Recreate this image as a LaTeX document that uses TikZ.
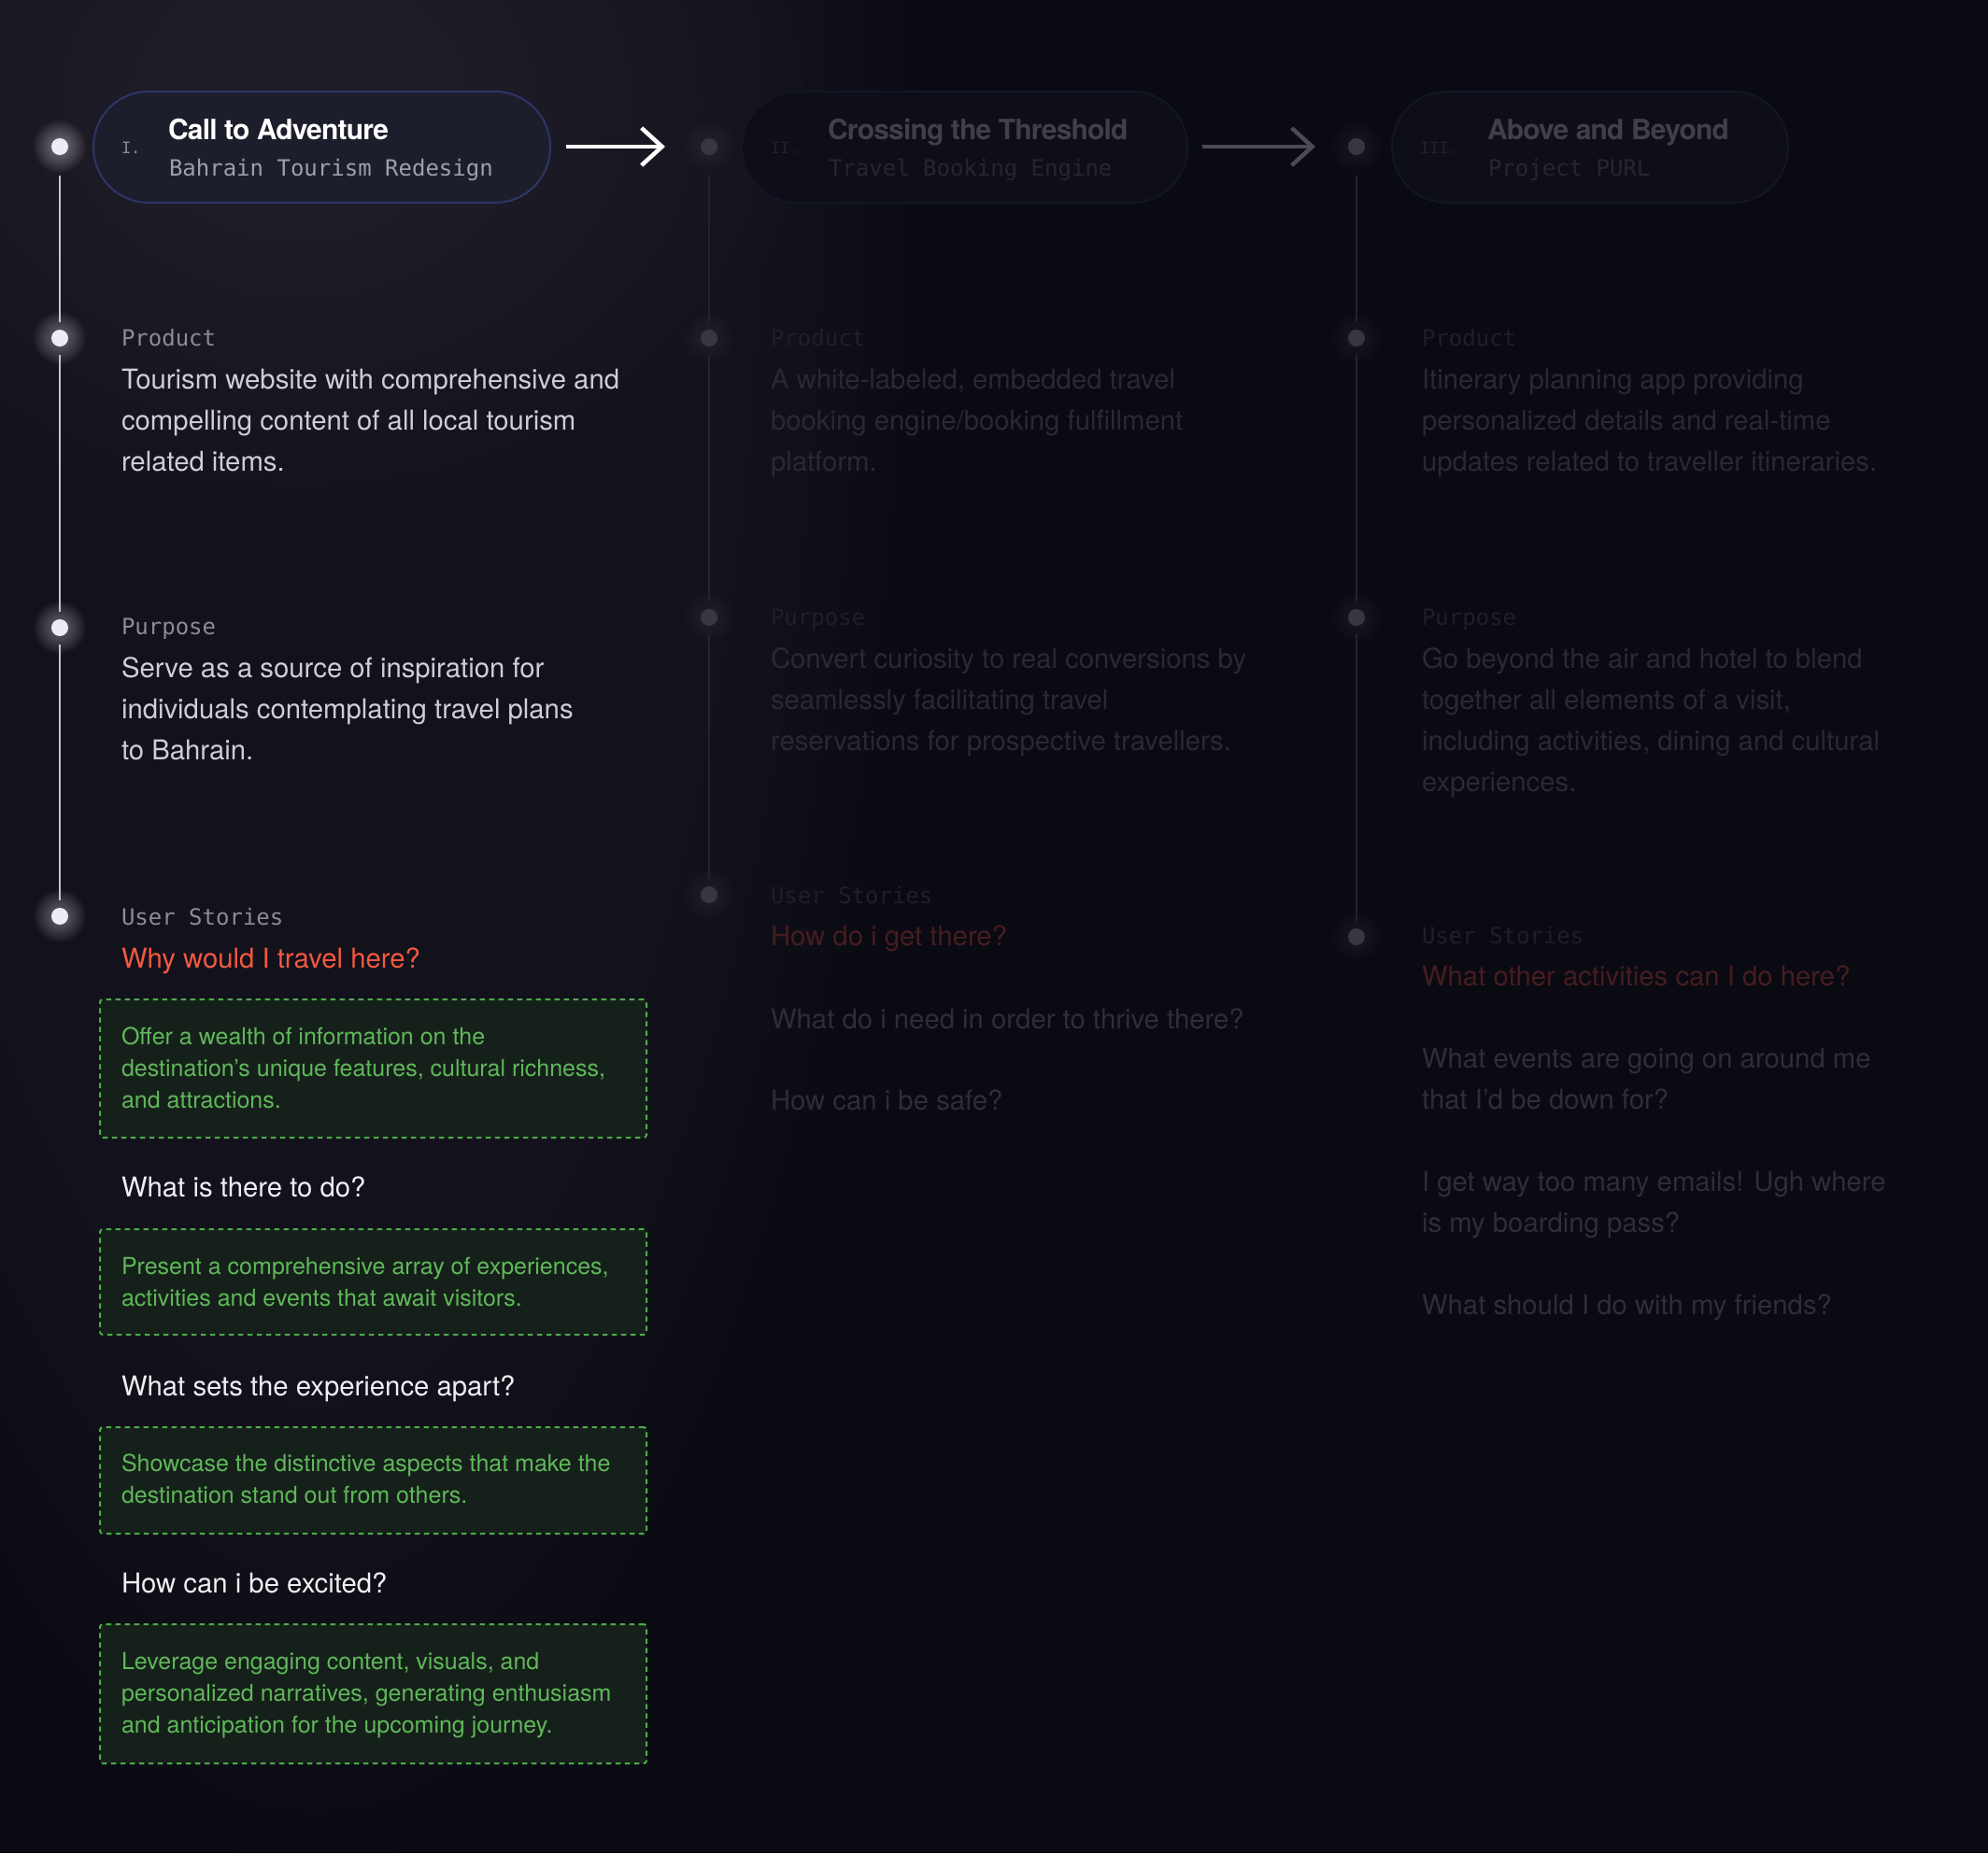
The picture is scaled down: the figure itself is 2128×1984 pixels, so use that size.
\documentclass[tikz,border=0pt]{standalone}
\usepackage{fontspec}
\setmainfont{TeX Gyre Heros}
\setmonofont{DejaVu Sans Mono}
\newfontfamily\titlefont[LetterSpace=-2.7]{TeX Gyre Heros}
\usetikzlibrary{arrows.meta,calc}
\definecolor{bgc}{HTML}{0A0A13}
\definecolor{glowc}{HTML}{3C3B46}
\definecolor{monoA}{HTML}{8C8B97}
\definecolor{bodyA}{HTML}{CFCED6}
\definecolor{subA}{HTML}{A09FAB}
\definecolor{numA}{HTML}{8A8996}
\definecolor{redA}{HTML}{F2593F}
\definecolor{qA}{HTML}{EFEFF3}
\definecolor{greenT}{HTML}{5FB85A}
\definecolor{greenB}{HTML}{4DAA4A}
\definecolor{greenF}{HTML}{16201A}
\definecolor{monoD}{HTML}{201F29}
\definecolor{bodyD}{HTML}{2A2933}
\definecolor{titleD}{HTML}{403F4A}
\definecolor{subD}{HTML}{272630}
\definecolor{numD}{HTML}{22212B}
\definecolor{redD}{HTML}{471C1F}
\definecolor{qD}{HTML}{2E2D38}
\definecolor{lineA}{HTML}{C5C4CE}
\definecolor{lineD}{HTML}{23222D}
\definecolor{dotA}{HTML}{EDECF4}
\definecolor{dotD}{HTML}{383741}
\definecolor{arrowD}{HTML}{4B4A55}
\definecolor{pillFA}{HTML}{1D1E2B}
\definecolor{pillBA}{HTML}{2E3568}
\definecolor{pillFD}{HTML}{0E0E18}
\definecolor{pillBD}{HTML}{141525}
\newcommand\mlines[1]{\parbox[t]{900pt}{\raggedright #1}}
\newcommand\dotglow[3]{%
  \foreach \rr in {10,12,...,28} {\fill[white, opacity=#3] (#1,#2) circle[radius=\rr];}}
\begin{document}
\begin{tikzpicture}[x=1pt,y=-1pt,
  tx/.style={anchor=base west, inner sep=0pt, outer sep=0pt},
  monolbl/.style={tx, font=\fontsize{24}{30}\ttfamily},
  numlbl/.style={tx, font=\fontsize{17}{22}\ttfamily},
  bodytxt/.style={tx, font=\fontsize{29.3}{44}\selectfont},
  greentxt/.style={tx, font=\fontsize{25}{34}\selectfont, text=greenT},
  ttl/.style={tx, font=\titlefont\bfseries\fontsize{30}{36}\selectfont},
  pill/.style={rounded corners=59pt, line width=2pt, minimum width=#1, minimum height=119pt, inner sep=0pt, anchor=west},
  dotnode/.style={circle, minimum size=18pt, inner sep=0pt, outer sep=0pt},
  gbox/.style={draw=greenB, fill=greenF, line width=2pt, dash pattern=on 5.5pt off 4.5pt, rounded corners=3pt, anchor=north west, minimum width=585pt, inner sep=0pt},
  vlineA/.style={draw=lineA, line width=2pt},
  vlineD/.style={draw=lineD, line width=2pt},
  arr/.style={line width=4.5pt, -{Straight Barb[length=22pt, width=40pt, line width=4.5pt]}}
]
\useasboundingbox (0,0) rectangle (2128,1984);
\fill[bgc] (0,0) rectangle (2128,1984);
\begin{scope}
  \clip (0,0) rectangle (2128,1984);
  \foreach \k in {0,...,29} {
    \fill[glowc, opacity=0.022] (340,150) ellipse [x radius={650*(1-\k/30)}, y radius={1850*(1-\k/30)}];
  }
  \foreach \k in {0,...,14} {
    \fill[glowc, opacity=0.03] (320,110) ellipse [x radius={540*(1-\k/15)}, y radius={440*(1-\k/15)}];
  }
\end{scope}

% ---------- headers ----------
\node[pill=489pt, draw=pillBA, fill=pillFA] (p1) at (99,157.5) {};
\node[pill=477pt, draw=pillBD, fill=pillFD] (p2) at (793,157.5) {};
\node[pill=424pt, draw=pillBD, fill=pillFD] (p3) at (1489,157.5) {};

\node[numlbl, text=numA] (n1) at (130,164) {I.};
\node[ttl, text=white] (t1) at (180,149) {Call to Adventure};
\node[monolbl, text=subA] (s1) at (181,188) {Bahrain Tourism Redesign};

\node[numlbl, text=numD] (n2) at (825,164) {II.};
\node[ttl, text=titleD] (t2) at (886,149) {Crossing the Threshold};
\node[monolbl, text=subD] (s2) at (887,188) {Travel Booking Engine};

\node[numlbl, text=numD] (n3) at (1520,164) {III.};
\node[ttl, text=titleD] (t3) at (1592,149) {Above and Beyond};
\node[monolbl, text=subD] (s3) at (1593,188) {Project PURL};

\coordinate (a1s) at (606,157);
\coordinate (a1e) at (712,157);
\coordinate (a2s) at (1287,157);
\coordinate (a2e) at (1408,157);
\draw[arr, draw=white] (a1s) -- (a1e);
\draw[arr, draw=arrowD] (a2s) -- (a2e);

% ---------- dots ----------
\dotglow{64}{157}{0.035}
\dotglow{64}{362}{0.03}
\dotglow{64}{672}{0.03}
\dotglow{64}{981}{0.03}
\foreach \yy in {157,362,661,958} {\dotglow{759}{\yy}{0.006}}
\foreach \yy in {157,362,661,1003} {\dotglow{1452}{\yy}{0.006}}

\node[dotnode, fill=dotA] (c1h) at (64,157) {};
\node[dotnode, fill=dotA] (c1a) at (64,362) {};
\node[dotnode, fill=dotA] (c1b) at (64,672) {};
\node[dotnode, fill=dotA] (c1c) at (64,981) {};
\node[dotnode, fill=dotD] (c2h) at (759,157) {};
\node[dotnode, fill=dotD] (c2a) at (759,362) {};
\node[dotnode, fill=dotD] (c2b) at (759,661) {};
\node[dotnode, fill=dotD] (c2c) at (759,958) {};
\node[dotnode, fill=dotD] (c3h) at (1452,157) {};
\node[dotnode, fill=dotD] (c3a) at (1452,362) {};
\node[dotnode, fill=dotD] (c3b) at (1452,661) {};
\node[dotnode, fill=dotD] (c3c) at (1452,1003) {};

\draw[vlineA, shorten <=22pt, shorten >=8pt] (c1h) -- (c1a);
\draw[vlineA, shorten <=9pt, shorten >=8pt] (c1a) -- (c1b);
\draw[vlineA, shorten <=9pt, shorten >=8pt] (c1b) -- (c1c);
\draw[vlineD, shorten <=22pt, shorten >=8pt] (c2h) -- (c2a);
\draw[vlineD, shorten <=9pt, shorten >=8pt] (c2a) -- (c2b);
\draw[vlineD, shorten <=9pt, shorten >=8pt] (c2b) -- (c2c);
\draw[vlineD, shorten <=22pt, shorten >=8pt] (c3h) -- (c3a);
\draw[vlineD, shorten <=9pt, shorten >=8pt] (c3a) -- (c3b);
\draw[vlineD, shorten <=9pt, shorten >=8pt] (c3b) -- (c3c);

% ---------- column 1 ----------
\node[monolbl, text=monoA] (l1a) at (130,370) {Product};
\node[bodytxt, text=bodyA] (b1a) at (130,416) {\mlines{Tourism website with comprehensive and\\compelling content of all local tourism\\related items.}};
\node[monolbl, text=monoA] (l1b) at (130,679) {Purpose};
\node[bodytxt, text=bodyA] (b1b) at (130,725) {\mlines{Serve as a source of inspiration for\\individuals contemplating travel plans\\to Bahrain.}};
\node[monolbl, text=monoA] (l1c) at (130,990) {User Stories};
\node[bodytxt, text=redA] (r1) at (130,1036) {Why would I travel here?};

\node[gbox, minimum height=148pt] (g1) at (106,1069) {};
\node[greentxt] (g1t) at (130,1118) {\mlines{Offer a wealth of information on the\\destination's unique features, cultural richness,\\and attractions.}};
\node[bodytxt, text=qA] (q1) at (130,1281) {What is there to do?};
\node[gbox, minimum height=113pt] (g2) at (106,1315) {};
\node[greentxt] (g2t) at (130,1364) {\mlines{Present a comprehensive array of experiences,\\activities and events that await visitors.}};
\node[bodytxt, text=qA] (q2) at (130,1494) {What sets the experience apart?};
\node[gbox, minimum height=114pt] (g3) at (106,1527) {};
\node[greentxt] (g3t) at (130,1575) {\mlines{Showcase the distinctive aspects that make the\\destination stand out from others.}};
\node[bodytxt, text=qA] (q3) at (130,1705) {How can i be excited?};
\node[gbox, minimum height=149pt] (g4) at (106,1738) {};
\node[greentxt] (g4t) at (130,1787) {\mlines{Leverage engaging content, visuals, and\\personalized narratives, generating enthusiasm\\and anticipation for the upcoming journey.}};

% ---------- column 2 ----------
\node[monolbl, text=monoD] (l2a) at (825,370) {Product};
\node[bodytxt, text=bodyD] (b2a) at (825,416) {\mlines{A white-labeled, embedded travel\\booking engine/booking fulfillment\\platform.}};
\node[monolbl, text=monoD] (l2b) at (825,669) {Purpose};
\node[bodytxt, text=bodyD] (b2b) at (825,715) {\mlines{Convert curiosity to real conversions by\\seamlessly facilitating travel\\reservations for prospective travellers.}};
\node[monolbl, text=monoD] (l2c) at (825,967) {User Stories};
\node[bodytxt, text=redD] (r2) at (825,1012) {How do i get there?};
\node[bodytxt, text=qD] (q21) at (825,1101) {What do i need in order to thrive there?};
\node[bodytxt, text=qD] (q22) at (825,1188) {How can i be safe?};

% ---------- column 3 ----------
\node[monolbl, text=monoD] (l3a) at (1522,370) {Product};
\node[bodytxt, text=bodyD] (b3a) at (1522,416) {\mlines{Itinerary planning app providing\\personalized details and real-time\\updates related to traveller itineraries.}};
\node[monolbl, text=monoD] (l3b) at (1522,669) {Purpose};
\node[bodytxt, text=bodyD] (b3b) at (1522,715) {\mlines{Go beyond the air and hotel to blend\\together all elements of a visit,\\including activities, dining and cultural\\experiences.}};
\node[monolbl, text=monoD] (l3c) at (1522,1010) {User Stories};
\node[bodytxt, text=redD] (r3) at (1522,1055) {What other activities can I do here?};
\node[bodytxt, text=qD] (q31) at (1522,1143) {\mlines{What events are going on around me\\that I’d be down for?}};
\node[bodytxt, text=qD] (q32) at (1522,1275) {\mlines{I get way too many emails! Ugh where\\is my boarding pass?}};
\node[bodytxt, text=qD] (q33) at (1522,1407) {What should I do with my friends?};
\end{tikzpicture}
\end{document}
